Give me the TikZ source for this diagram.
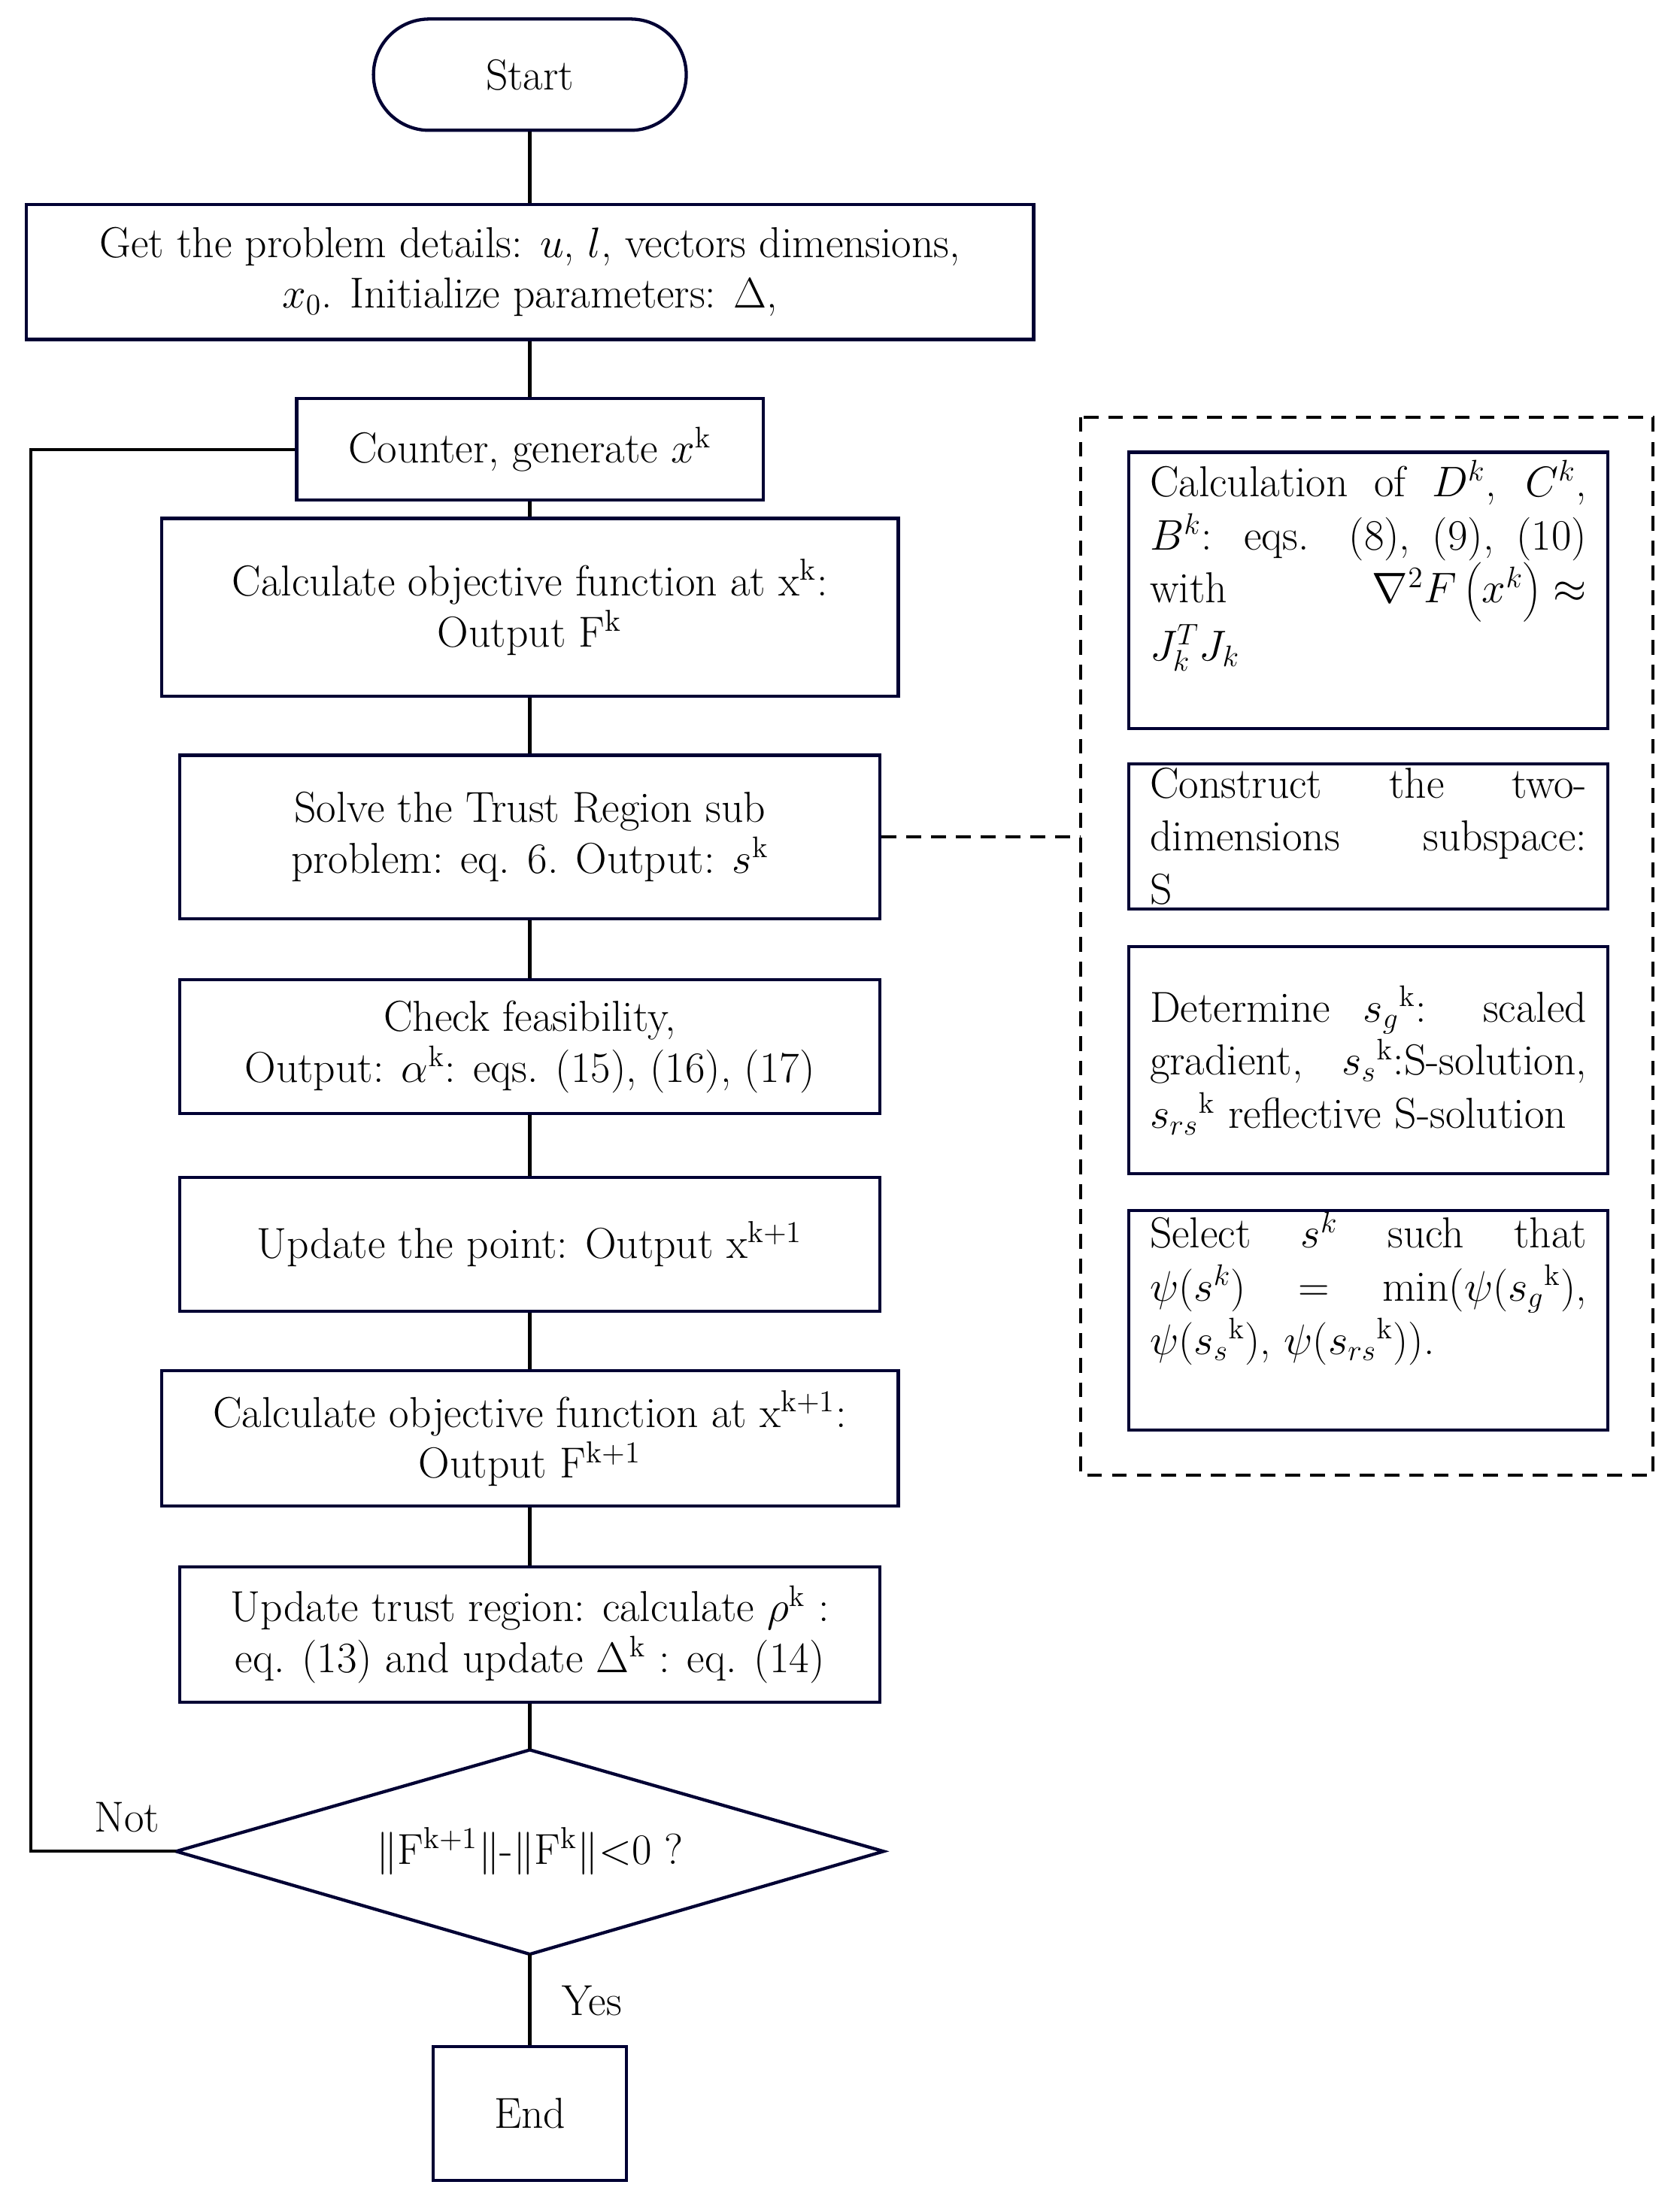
\documentclass[tikz,border=0pt]{standalone}
\usetikzlibrary{shapes.geometric}
\begin{document}
\begin{tikzpicture}[x=0.02cm,y=-0.02cm,
 every node/.style={font=\fontsize{17.5}{20.5}\selectfont},
 box/.style={draw=black!80!blue,line width=1.3pt,rectangle,align=center,inner sep=2pt},
 rbox/.style={draw=black!80!blue,line width=1.3pt,rectangle,text width=6.2cm,align=justify,minimum width=6.8cm,inner sep=0pt,font=\fontsize{17.5}{21.5}\selectfont},
 ln/.style={line width=1.3pt},
 dsh/.style={line width=1.3pt,dash pattern=on 6pt off 4pt}]
\useasboundingbox (0,0) rectangle (1190,1570);
\node[box,rounded corners=0.79cm,minimum width=4.44cm,minimum height=1.58cm] (start) at (376,53) {Start};
\node[box,minimum width=14.3cm,minimum height=1.92cm] (b1) at (376,193) {Get the problem details: $u$, $l$, vectors dimensions,\\ $x_0$. Initialize parameters: $\Delta$,};
\node[box,minimum width=6.62cm,minimum height=1.44cm] (cnt) at (376,319) {Counter, generate $x^{\mathrm{k}}$};
\node[box,minimum width=10.46cm,minimum height=2.52cm] (calc) at (376,431) {Calculate objective function at x\textsuperscript{k}:\\ Output F\textsuperscript{k}};
\node[box,minimum width=9.94cm,minimum height=2.32cm] (solve) at (376,594) {Solve the Trust Region sub\\ problem: eq. 6. Output: $s^{\mathrm{k}}$};
\node[box,minimum width=9.94cm,minimum height=1.9cm] (check) at (376,743) {Check feasibility,\\ Output: $\alpha^{\mathrm{k}}$: eqs. (15), (16), (17)};
\node[box,minimum width=9.94cm,minimum height=1.9cm] (upd) at (376,883) {Update the point: Output x\textsuperscript{k+1}};
\node[box,minimum width=10.46cm,minimum height=1.92cm] (calc2) at (376,1021) {Calculate objective function at x\textsuperscript{k+1}:\\ Output F\textsuperscript{k+1}};
\node[box,minimum width=9.94cm,minimum height=1.92cm] (trust) at (376,1160) {Update trust region: calculate $\rho^{\mathrm{k}}$ :\\ eq. (13) and update $\Delta^{\mathrm{k}}$ : eq. (14)};
\coordinate (dt) at (376,1242); \coordinate (db) at (376,1387);
\coordinate (dl) at (125,1314); \coordinate (dr) at (627,1314);
\draw[ln,draw=black!80!blue] (dt)--(dr)--(db)--(dl)--cycle;
\node (dec) at (376,1314) {$\|$F\textsuperscript{k+1}$\|$-$\|$F\textsuperscript{k}$\|$<0 ?};
\node[box,minimum width=2.74cm,minimum height=1.9cm] (end) at (376,1500) {End};
\draw[ln] (start)--(b1); \draw[ln] (b1)--(cnt); \draw[ln] (cnt)--(calc);
\draw[ln] (calc)--(solve); \draw[ln] (solve)--(check); \draw[ln] (check)--(upd);
\draw[ln] (upd)--(calc2); \draw[ln] (calc2)--(trust); \draw[ln] (trust)--(dt);
\draw[ln] (db)--(end);
\draw[ln] (dl) -- (22,1314) -- (22,319) -- (cnt.west);
\node (not) at (90,1290) {Not};
\node (yes) at (420,1420) {Yes};
\draw[dsh] (767,296) rectangle (1173,1047);
\coordinate (fl) at (767,594);
\draw[dsh] (solve.east) -- (fl);
\node[rbox,minimum height=3.92cm] (ra) at (971,419) {Calculation of $D^k$, $C^k$, $B^k$: eqs. (8), (9), (10) with \hfill $\nabla^2F\left(x^k\right)\approx$\\ $J_k^TJ_k$\\[0.1cm]\mbox{}};
\node[rbox,minimum height=2.06cm] (rb) at (971,593.5) {Construct the two-dimensions subspace: S};
\node[rbox,minimum height=3.22cm] (rc) at (971,752.5) {Determine $s_g{}^{\mathrm{k}}$: scaled gradient, \hfill $s_s{}^{\mathrm{k}}$:S-solution, $s_{rs}{}^{\mathrm{k}}$ reflective S-solution};
\node[rbox,minimum height=3.12cm] (rd) at (971,937) {Select $s^k$ such that\linebreak $\psi(s^k)$ = min($\psi(s_g{}^{\mathrm{k}})$,\linebreak $\psi(s_s{}^{\mathrm{k}})$, $\psi(s_{rs}{}^{\mathrm{k}})$).\\[0.3cm]\mbox{}};
\end{tikzpicture}
\end{document}
